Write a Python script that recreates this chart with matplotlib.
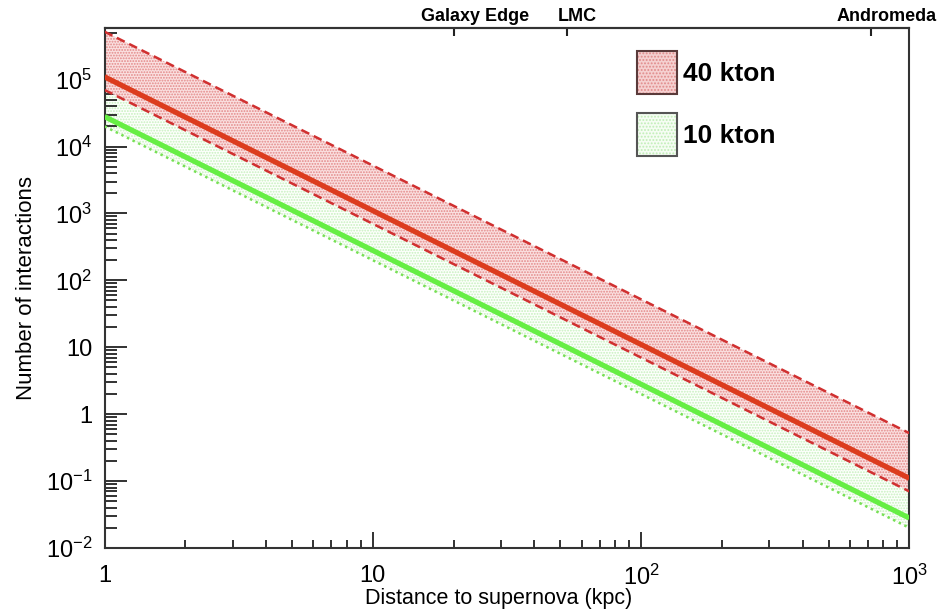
import numpy as np
import matplotlib
matplotlib.use("Agg")
import matplotlib.pyplot as plt
from matplotlib.patches import Patch
from matplotlib.ticker import FixedLocator, LogLocator, FuncFormatter, NullFormatter

plt.rcParams['font.family'] = ['Liberation Sans', 'DejaVu Sans']
plt.rcParams['mathtext.fontset'] = 'custom'
plt.rcParams['mathtext.rm'] = 'Liberation Sans'
plt.rcParams['mathtext.it'] = 'Liberation Sans:italic'
plt.rcParams['mathtext.bf'] = 'Liberation Sans:bold'
plt.rcParams['hatch.linewidth'] = 0.9

# ---------------- data ----------------
distance_kpc = [1, 10, 100, 1000]
kton40_central = [1.1e5, 1.1e3, 11, 0.11]
kton40_upper = [5.2e5, 5.2e3, 52, 0.52]
kton40_lower = [7.0e4, 7.0e2, 7.0, 0.070]
kton10_central = [2.8e4, 2.8e2, 2.8, 0.028]
kton10_upper = [1.3e5, 1.3e3, 13, 0.13]
kton10_lower = [2.0e4, 2.0e2, 2.0, 0.020]

landmark_names = ["Galaxy Edge", "LMC", "Andromeda"]
landmark_kpc = [20, 53, 720]
landmark_label_kpc = [24, 58, 820]

series_labels = ["40 kton", "10 kton"]

# ---------------- figure ----------------
fig = plt.figure(figsize=(9.53, 6.12), dpi=100)
ax = fig.add_axes([0.1097, 0.1046, 0.9542 - 0.1097, 0.955 - 0.1046])

red_line = '#dc3c1e'
red_dash = '#d03030'
green_line = '#66ee44'
green_dot = '#77e055'

# 10 kton band
ax.fill_between(distance_kpc, kton10_lower, kton10_upper, facecolor='#fdfffc',
                edgecolor='#c6f0bd', hatch='......', linewidth=0, zorder=1)
# 40 kton band
ax.fill_between(distance_kpc, kton40_lower, kton40_upper, facecolor='#fae0e0',
                edgecolor='#e38888', hatch='......', linewidth=0, zorder=2)

ax.plot(distance_kpc, kton10_lower, color=green_dot, lw=1.8, linestyle=(0, (1, 1.5)), zorder=3)
ax.plot(distance_kpc, kton40_upper, color=red_dash, lw=1.8, linestyle=(0, (3.5, 2)), zorder=3)
ax.plot(distance_kpc, kton40_lower, color=red_dash, lw=1.8, linestyle=(0, (3.5, 2)), zorder=3)
ax.plot(distance_kpc, kton10_central, color=green_line, lw=3.8, solid_capstyle='butt', zorder=4)
ax.plot(distance_kpc, kton40_central, color=red_line, lw=3.8, solid_capstyle='butt', zorder=4)

ax.set_xscale('log')
ax.set_yscale('log')
ax.set_xlim(1, 1000)
ax.set_ylim(1e-2, 6e5)


def pow_fmt(v, pos):
    e = int(round(np.log10(v)))
    if e == 0:
        return '1'
    if e == 1:
        return '10'
    if e < 0:
        return r'$\mathregular{10^{-%d}}$' % (-e)
    return r'$\mathregular{10^{%d}}$' % e


ax.xaxis.set_major_locator(FixedLocator([1, 10, 100, 1000]))
ax.yaxis.set_major_locator(FixedLocator([1e-2, 1e-1, 1, 10, 1e2, 1e3, 1e4, 1e5]))
ax.xaxis.set_minor_locator(LogLocator(base=10, subs=np.arange(2, 10), numticks=20))
ax.yaxis.set_minor_locator(LogLocator(base=10, subs=np.arange(2, 10), numticks=20))
ax.xaxis.set_major_formatter(FuncFormatter(pow_fmt))
ax.yaxis.set_major_formatter(FuncFormatter(pow_fmt))
ax.xaxis.set_minor_formatter(NullFormatter())
ax.yaxis.set_minor_formatter(NullFormatter())

ax.tick_params(axis='both', which='both', direction='in', top=False, right=False,
               colors='#222222', labelcolor='black', labelsize=17, width=1.3)
ax.tick_params(axis='x', which='major', length=11.5, pad=12)
ax.tick_params(axis='x', which='minor', length=5.8)
ax.tick_params(axis='y', which='major', length=16, pad=9)
ax.tick_params(axis='y', which='minor', length=8.5)

for s in ax.spines.values():
    s.set_linewidth(1.5)
    s.set_color('#333333')

ax.set_xlabel('Distance to supernova (kpc)', fontsize=15.5)
ax.xaxis.set_label_coords(0.49, -0.077, transform=ax.transAxes)
ax.xaxis.label.set_va('top')
ax.set_ylabel('Number of interactions', fontsize=16, labelpad=6)

# top axis with landmarks
sec = ax.secondary_xaxis('top')
sec.xaxis.set_major_locator(FixedLocator(landmark_kpc))
sec.xaxis.set_minor_locator(FixedLocator([]))
sec.xaxis.set_major_formatter(NullFormatter())
sec.tick_params(axis='x', which='major', direction='in', length=6, width=1.5, colors='#222222')
sec.spines['top'].set_linewidth(1.5)
sec.spines['top'].set_color('#333333')
for name, xl in zip(landmark_names, landmark_label_kpc):
    ax.text(xl, 1.012, name, transform=ax.get_xaxis_transform(), ha='center', va='baseline',
            fontsize=13, fontweight='bold')

handles = [Patch(facecolor='#f5d0d0', edgecolor='#5a3a3a', hatch='.....', linewidth=1.5),
           Patch(facecolor='#f5fdf3', edgecolor='#555555', hatch='.....', linewidth=1.5)]
leg = ax.legend(handles, series_labels, loc='upper left', bbox_to_anchor=(0.661, 0.955),
                frameon=False, handlelength=1.55, handleheight=2.13, handletextpad=0.2,
                labelspacing=0.72, prop={'weight': 'bold', 'size': 19}, borderaxespad=0,
                borderpad=0)
# hatch colours of the legend boxes
for h, c in zip(leg.legend_handles, ['#e08a8a', '#c0eeb6']):
    h.set_edgecolor(c)
    h.set_linewidth(0)

fig.canvas.draw()
for h, ec in zip(leg.legend_handles, ['#5a3a3a', '#555555']):
    bb = h.get_window_extent(fig.canvas.get_renderer())
    inv = fig.transFigure.inverted()
    (x0, y0), (x1, y1) = inv.transform([[bb.x0, bb.y0], [bb.x1, bb.y1]])
    fig.patches.append(matplotlib.patches.Rectangle((x0, y0), x1 - x0, y1 - y0,
                                                    transform=fig.transFigure, fill=False,
                                                    edgecolor=ec, linewidth=1.5, zorder=10))

fig.savefig('out.png', dpi=100)
